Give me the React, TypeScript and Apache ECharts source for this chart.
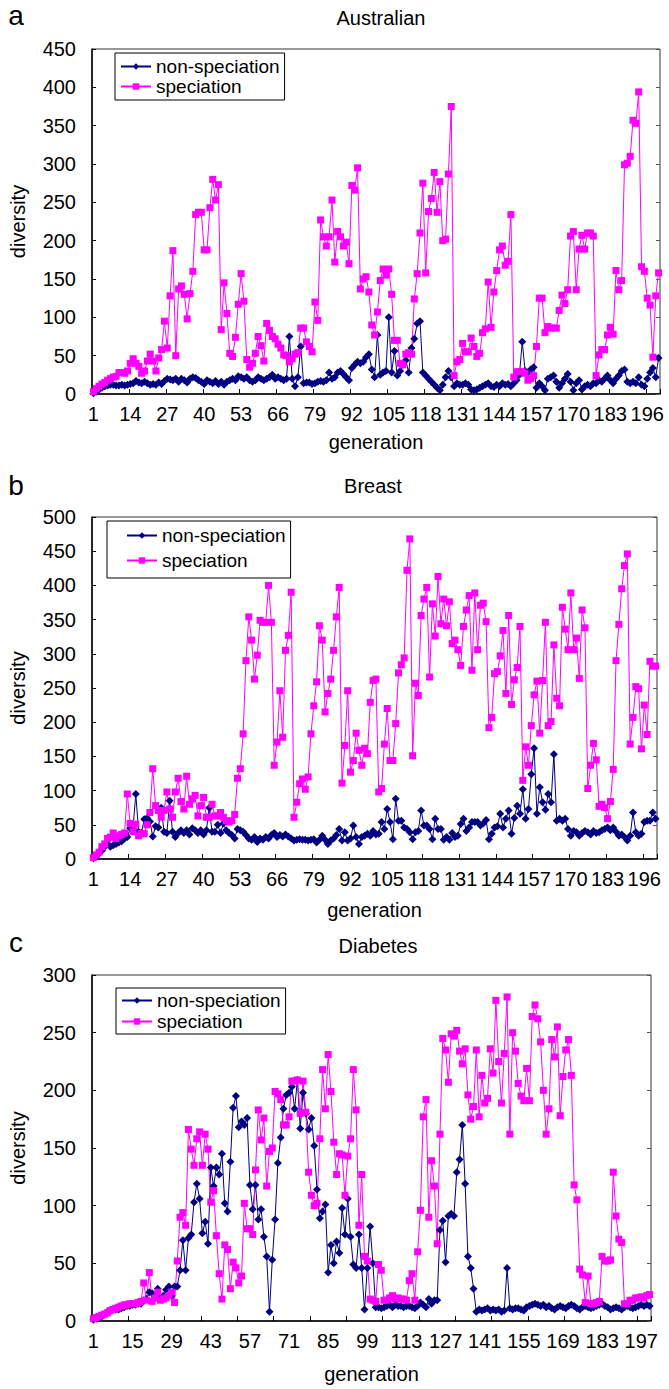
import React, { useEffect, useRef } from 'react';
import * as echarts from 'echarts';

// ---------- data ----------
const generations: string[] = Array.from({ length: 200 }, (_, i) => String(i + 1));

const seriesNames = ['non-speciation', 'speciation'];
const panelTitles = ['Australian', 'Breast', 'Diabetes'];
const panelLetters = ['a', 'b', 'c'];
const yMaxes = [450, 500, 300];
const yStep = 50;
const labelSteps = [13, 13, 14];
const tickSteps = [13, 13, 13];

const australianNonSpeciation = [
  1, 3, 6, 8, 10, 11, 12, 12, 11, 11,
  12, 11, 12, 13, 14, 17, 15, 14, 16, 14,
  12, 13, 12, 15, 13, 17, 20, 19, 18, 20,
  16, 20, 18, 15, 20, 22, 21, 18, 16, 13,
  18, 16, 14, 17, 13, 16, 12, 16, 18, 20,
  18, 23, 22, 20, 22, 18, 16, 18, 22, 20,
  18, 20, 22, 25, 20, 22, 20, 18, 20, 75,
  20, 10, 22, 62, 14, 15, 15, 13, 14, 16,
  17, 16, 18, 28, 20, 22, 28, 30, 26, 22,
  18, 34, 38, 42, 40, 42, 48, 52, 32, 22,
  77, 25, 28, 30, 100, 28, 56, 24, 30, 38,
  44, 28, 60, 72, 92, 95, 28, 24, 20, 16,
  12, 8, 5, 12, 22, 30, 22, 10, 14, 12,
  12, 14, 12, 6, 5, 6, 8, 10, 12, 14,
  10, 9, 12, 10, 14, 12, 13, 10, 14, 18,
  25, 68, 30, 28, 32, 35, 8, 14, 10, 5,
  20, 22, 24, 16, 8, 14, 20, 26, 16, 5,
  14, 18, 6, 10, 12, 10, 14, 14, 18, 16,
  20, 24, 18, 14, 20, 24, 30, 32, 16, 14,
  16, 14, 22, 12, 10, 20, 28, 34, 22, 47,
];

const australianSpeciation = [
  3, 7, 10, 13, 15, 18, 20, 22, 23, 28,
  28, 27, 30, 40, 46, 40, 36, 27, 30, 43,
  52, 43, 30, 47, 58, 95, 60, 128, 187, 50,
  137, 141, 130, 98, 131, 160, 234, 237, 237, 188,
  188, 243, 280, 253, 273, 84, 145, 105, 53, 49,
  74, 117, 157, 121, 45, 35, 40, 53, 75, 63,
  43, 92, 83, 75, 72, 65, 60, 51, 50, 42,
  46, 52, 54, 86, 86, 68, 62, 55, 120, 96,
  227, 205, 193, 205, 253, 172, 212, 205, 193, 198,
  170, 272, 266, 295, 137, 150, 153, 133, 90, 77,
  107, 148, 163, 155, 163, 130, 70, 70, 40, 38,
  52, 54, 52, 124, 157, 210, 275, 158, 238, 255,
  289, 237, 277, 200, 202, 287, 375, 24, 42, 45,
  66, 55, 55, 73, 62, 49, 53, 80, 85, 146,
  87, 133, 161, 188, 193, 168, 173, 234, 22, 29,
  29, 29, 27, 18, 20, 24, 62, 125, 125, 80,
  88, 86, 86, 86, 109, 129, 118, 136, 206, 212,
  136, 189, 207, 189, 210, 210, 206, 24, 51, 58,
  58, 77, 87, 78, 161, 136, 148, 299, 301, 310,
  357, 353, 394, 166, 160, 125, 116, 48, 128, 158,
];

const breastNonSpeciation = [
  1, 4, 8, 12, 18, 22, 18, 20, 22, 24,
  26, 30, 32, 45, 44, 95, 40, 38, 58, 60,
  55, 33, 48, 46, 75, 40, 38, 85, 40, 32,
  38, 42, 38, 42, 36, 45, 42, 38, 42, 36,
  42, 75, 40, 40, 50, 38, 52, 42, 38, 35,
  30, 44, 42, 40, 35, 30, 28, 32, 25, 30,
  28, 32, 30, 35, 38, 32, 35, 33, 36, 33,
  30, 27, 28, 29, 28, 28, 27, 28, 29, 24,
  28, 34, 28, 22, 27, 30, 35, 44, 27, 39,
  27, 30, 49, 32, 22, 32, 34, 37, 34, 41,
  36, 37, 54, 44, 73, 54, 29, 88, 56, 56,
  46, 44, 39, 29, 39, 41, 71, 49, 49, 44,
  29, 59, 44, 44, 28, 32, 28, 38, 32, 34,
  51, 59, 41, 46, 54, 54, 54, 49, 52, 57,
  29, 37, 46, 48, 66, 46, 59, 71, 37, 60,
  78, 66, 102, 59, 73, 124, 162, 66, 105, 83,
  72, 95, 83, 153, 56, 59, 56, 59, 44, 34,
  41, 39, 34, 38, 41, 39, 36, 41, 38, 39,
  42, 44, 46, 42, 46, 40, 34, 36, 32, 27,
  34, 68, 39, 34, 37, 54, 56, 56, 68, 59,
];

const breastSpeciation = [
  2, 6, 10, 18, 22, 30, 32, 38, 30, 34,
  36, 38, 95, 52, 40, 51, 34, 37, 37, 50,
  68, 132, 78, 71, 61, 71, 98, 73, 61, 98,
  118, 84, 73, 121, 80, 88, 93, 63, 78, 90,
  61, 61, 80, 63, 63, 68, 61, 56, 54, 56,
  65, 118, 132, 183, 290, 354, 320, 263, 298, 349,
  346, 346, 400, 346, 137, 171, 246, 178, 305, 327,
  390, 61, 83, 110, 117, 102, 120, 183, 224, 259,
  341, 320, 215, 242, 263, 305, 354, 397, 111, 166,
  246, 127, 144, 184, 159, 137, 162, 154, 229, 261,
  263, 98, 103, 168, 220, 144, 144, 198, 272, 284,
  294, 422, 468, 151, 257, 239, 356, 380, 397, 266,
  373, 326, 413, 344, 380, 341, 376, 315, 320, 306,
  283, 340, 364, 385, 276, 389, 306, 371, 374, 347,
  192, 207, 271, 274, 297, 334, 242, 356, 226, 262,
  280, 340, 115, 164, 137, 195, 240, 260, 184, 261,
  346, 195, 201, 313, 235, 224, 368, 336, 306, 389,
  306, 323, 264, 364, 338, 103, 137, 169, 145, 77,
  80, 75, 59, 84, 131, 290, 343, 395, 429, 446,
  168, 207, 252, 249, 161, 225, 182, 289, 282, 282,
];

const diabetesNonSpeciation = [
  1, 2, 3, 4, 6, 8, 9, 10, 10, 10,
  11, 12, 13, 13, 14, 14, 15, 15, 18, 19,
  25, 24, 22, 28, 20, 22, 27, 30, 22, 30,
  30, 44, 70, 44, 72, 75, 103, 119, 106, 76,
  86, 67, 133, 117, 133, 127, 145, 102, 95, 138,
  185, 195, 168, 173, 170, 176, 118, 97, 118, 88,
  97, 73, 56, 8, 53, 88, 137, 159, 184, 196,
  198, 203, 184, 209, 167, 198, 180, 166, 176, 152,
  114, 89, 95, 101, 42, 66, 50, 69, 59, 98,
  75, 106, 73, 49, 46, 75, 46, 10, 46, 82,
  50, 12, 12, 11, 12, 13, 14, 12, 14, 13,
  13, 12, 13, 13, 12, 11, 13, 16, 14, 12,
  19, 15, 18, 18, 79, 87, 51, 91, 93, 91,
  129, 140, 170, 119, 56, 46, 28, 8, 10, 9,
  10, 11, 9, 10, 9, 10, 8, 9, 46, 11,
  10, 11, 11, 10, 9, 12, 13, 14, 15, 14,
  13, 14, 12, 13, 11, 10, 12, 13, 12, 11,
  13, 14, 13, 11, 10, 12, 13, 12, 11, 12,
  13, 14, 15, 13, 12, 10, 11, 12, 11, 10,
  12, 13, 12, 11, 12, 13, 14, 13, 14, 13,
];

const diabetesSpeciation = [
  2, 3, 4, 5, 6, 7, 9, 10, 11, 12,
  13, 14, 14, 15, 15, 15, 16, 17, 33, 18,
  42, 17, 20, 25, 18, 19, 20, 22, 25, 16,
  52, 90, 94, 83, 166, 149, 135, 158, 164, 135,
  162, 149, 103, 113, 74, 41, 19, 66, 62, 28,
  51, 46, 33, 39, 102, 80, 80, 75, 131, 183,
  157, 176, 117, 147, 150, 199, 197, 192, 170, 170,
  177, 208, 208, 209, 180, 208, 181, 129, 109, 100,
  102, 158, 218, 184, 231, 199, 155, 127, 145, 144,
  109, 143, 158, 218, 183, 83, 127, 56, 52, 19,
  18, 17, 49, 44, 18, 18, 20, 22, 19, 20,
  19, 19, 18, 35, 41, 18, 60, 96, 177, 192,
  90, 139, 117, 67, 162, 245, 235, 207, 249, 247,
  252, 234, 223, 236, 196, 175, 186, 235, 177, 213,
  189, 193, 236, 215, 278, 225, 189, 232, 281, 162,
  250, 234, 206, 195, 191, 219, 191, 264, 274, 262,
  242, 200, 162, 184, 244, 229, 255, 178, 212, 235,
  244, 213, 118, 105, 45, 40, 16, 39, 15, 15,
  16, 17, 56, 52, 52, 53, 129, 91, 71, 68,
  15, 15, 18, 18, 20, 20, 21, 20, 22, 23,
];

const panelData = [
  [australianNonSpeciation, australianSpeciation],
  [breastNonSpeciation, breastSpeciation],
  [diabetesNonSpeciation, diabetesSpeciation],
];

// ---------- layout / style ----------
const FONT = '"Liberation Sans", Arial, Helvetica, sans-serif';
const NAVY = '#000080';
const MAGENTA = '#FF00FF';

const layout = [
  {
    grid: { left: 92, top: 49, width: 568, height: 345 },
    legend: { left: 115, top: 53, itemGap: 1, padding: [4, 5, 4, 5] },
    letter: [16, 15],
    title: [381, 18],
    nameGap: 38,
  },
  {
    grid: { left: 91, top: 517, width: 566, height: 342 },
    legend: { left: 107, top: 521, itemGap: 6, padding: [5, 5, 8, 19] },
    letter: [16, 485],
    title: [373, 486],
    nameGap: 41,
  },
  {
    grid: { left: 92, top: 975, width: 559, height: 346 },
    legend: { left: 116, top: 988, itemGap: 2, padding: [3, 5, 3, 5] },
    letter: [16, 942],
    title: [378, 946],
    nameGap: 43,
  },
];

function buildOption() {
  const grids: any[] = [];
  const xAxes: any[] = [];
  const yAxes: any[] = [];
  const series: any[] = [];
  const legends: any[] = [];
  const graphics: any[] = [];

  layout.forEach((lay, p) => {
    grids.push({
      ...lay.grid,
      show: true,
      borderColor: '#333',
      borderWidth: 1,
      backgroundColor: 'transparent',
    });
    xAxes.push({
      type: 'category',
      gridIndex: p,
      data: generations,
      boundaryGap: true,
      axisLine: { show: true, lineStyle: { color: '#000', width: 1.5 } },
      axisTick: {
        show: true,
        inside: true,
        interval: tickSteps[p] - 1,
        alignWithLabel: false,
        length: 5,
        lineStyle: { color: '#000' },
      },
      axisLabel: { interval: labelSteps[p] - 1, fontSize: 20, color: '#000', fontFamily: FONT, margin: 10 },
      splitLine: { show: false },
      name: 'generation',
      nameLocation: 'middle',
      nameGap: lay.nameGap,
      nameMoveOverlap: false,
      nameTextStyle: { fontSize: 20, color: '#000', fontFamily: FONT },
    });
    yAxes.push({
      type: 'value',
      gridIndex: p,
      min: 0,
      max: yMaxes[p],
      interval: yStep,
      axisLine: { show: true, lineStyle: { color: '#000', width: 1.5 } },
      axisTick: { show: true, inside: true, length: 4, lineStyle: { color: '#000' } },
      axisLabel: { fontSize: 20, color: '#000', fontFamily: FONT, margin: 16 },
      splitLine: { show: false },
      name: 'diversity',
      nameLocation: 'middle',
      nameGap: 64,
      nameRotate: 90,
      nameMoveOverlap: false,
      nameTextStyle: { fontSize: 20, color: '#000', fontFamily: FONT },
    });
    // right-hand frame tick marks
    yAxes.push({
      type: 'value',
      gridIndex: p,
      position: 'right',
      min: 0,
      max: yMaxes[p],
      interval: yStep,
      axisLine: { show: false },
      axisTick: { show: true, inside: true, length: 4, lineStyle: { color: '#555' } },
      axisLabel: { show: false },
      splitLine: { show: false },
    });
    const [nonSpec, spec] = panelData[p];
    series.push({
      name: seriesNames[0],
      type: 'line',
      xAxisIndex: p,
      yAxisIndex: p * 2,
      data: nonSpec,
      symbol: 'diamond',
      symbolSize: 8,
      showAllSymbol: true,
      lineStyle: { color: NAVY, width: 1 },
      itemStyle: { color: NAVY },
    });
    series.push({
      name: seriesNames[1],
      type: 'line',
      xAxisIndex: p,
      yAxisIndex: p * 2,
      data: spec,
      symbol: 'rect',
      symbolSize: 7,
      showAllSymbol: true,
      lineStyle: { color: MAGENTA, width: 1 },
      itemStyle: { color: MAGENTA },
    });
    legends.push({
      orient: 'vertical',
      left: lay.legend.left,
      top: lay.legend.top,
      padding: lay.legend.padding,
      itemGap: lay.legend.itemGap,
      itemWidth: 30,
      itemHeight: 8,
      borderColor: '#000',
      borderWidth: 1,
      backgroundColor: '#fff',
      selectedMode: false,
      data: seriesNames,
      textStyle: { fontSize: 19, color: '#000', fontFamily: FONT },
    });
    graphics.push({
      type: 'text',
      x: lay.letter[0],
      y: lay.letter[1],
      style: {
        text: panelLetters[p],
        fontSize: 28,
        fontFamily: FONT,
        fill: '#000',
        align: 'center',
        verticalAlign: 'middle',
      },
    });
    graphics.push({
      type: 'text',
      x: lay.title[0],
      y: lay.title[1],
      style: {
        text: panelTitles[p],
        fontSize: 20,
        fontFamily: FONT,
        fill: '#000',
        align: 'center',
        verticalAlign: 'middle',
      },
    });
  });

  return {
    animation: false,
    backgroundColor: '#fff',
    textStyle: { fontFamily: FONT },
    grid: grids,
    xAxis: xAxes,
    yAxis: yAxes,
    legend: legends,
    series,
    graphic: graphics,
  };
}

export default function App() {
  const ref = useRef<HTMLDivElement>(null);
  useEffect(() => {
    document.body.style.margin = '0';
    const chart = echarts.init(ref.current as HTMLDivElement, null, { renderer: 'svg' });
    chart.setOption(buildOption() as any);
    return () => chart.dispose();
  }, []);
  return <div ref={ref} style={{ width: 669, height: 1389 }} />;
}
